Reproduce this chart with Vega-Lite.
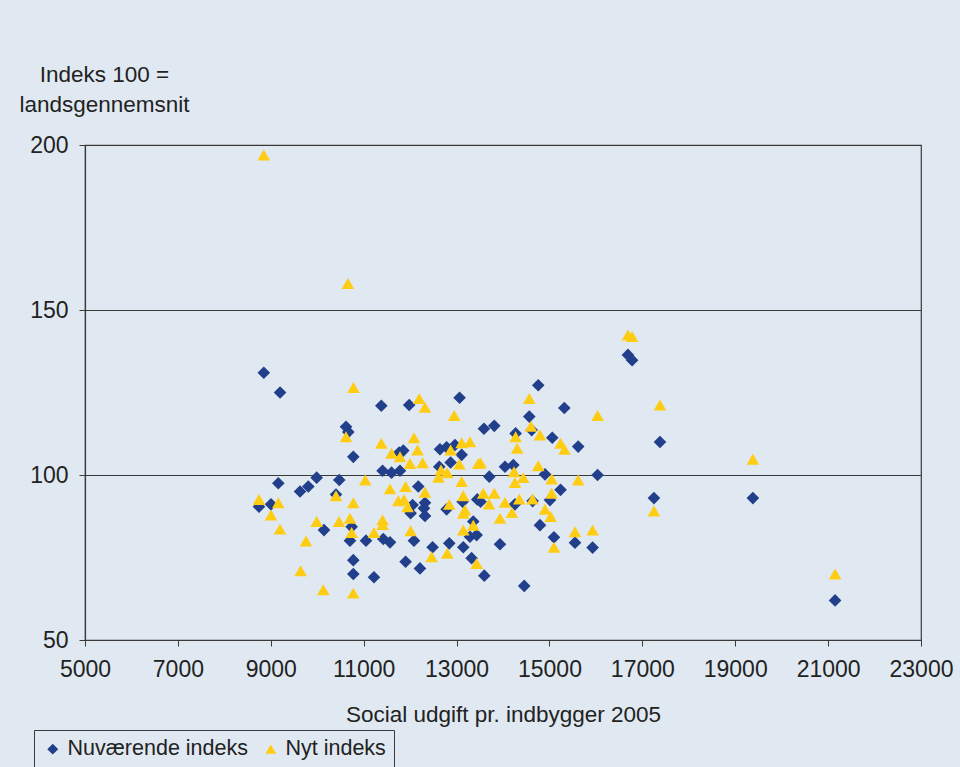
{
  "$schema": "https://vega.github.io/schema/vega-lite/v6.json",
  "autosize": {"type": "none"},
  "width": 836,
  "height": 495,
  "padding": {"left": 85, "top": 145, "right": 39, "bottom": 127},
  "background": "#e0e9f1",
  "config": {
    "font": "Liberation Sans",
    "view": {"stroke": "#3a3a3a", "strokeWidth": 1.2, "fill": "#e0e9f1"}
  },
  "data": {
    "values": [
      {"udgift": 8850, "indeks": 131, "serie": "Nuværende indeks"},
      {"udgift": 9200, "indeks": 125, "serie": "Nuværende indeks"},
      {"udgift": 16690, "indeks": 136.4, "serie": "Nuværende indeks"},
      {"udgift": 16780, "indeks": 134.8, "serie": "Nuværende indeks"},
      {"udgift": 17380, "indeks": 110, "serie": "Nuværende indeks"},
      {"udgift": 19380, "indeks": 93, "serie": "Nuværende indeks"},
      {"udgift": 21150, "indeks": 62, "serie": "Nuværende indeks"},
      {"udgift": 17250, "indeks": 93, "serie": "Nuværende indeks"},
      {"udgift": 11380, "indeks": 121, "serie": "Nuværende indeks"},
      {"udgift": 11980, "indeks": 121.2, "serie": "Nuværende indeks"},
      {"udgift": 13065, "indeks": 123.4, "serie": "Nuværende indeks"},
      {"udgift": 10620, "indeks": 114.6, "serie": "Nuværende indeks"},
      {"udgift": 10670, "indeks": 113, "serie": "Nuværende indeks"},
      {"udgift": 10777, "indeks": 105.5, "serie": "Nuværende indeks"},
      {"udgift": 12643, "indeks": 107.8, "serie": "Nuværende indeks"},
      {"udgift": 12786, "indeks": 108.4, "serie": "Nuværende indeks"},
      {"udgift": 12966, "indeks": 109.1, "serie": "Nuværende indeks"},
      {"udgift": 13110, "indeks": 106.1, "serie": "Nuværende indeks"},
      {"udgift": 12872, "indeks": 103.8, "serie": "Nuværende indeks"},
      {"udgift": 11853, "indeks": 107.4, "serie": "Nuværende indeks"},
      {"udgift": 11765, "indeks": 106.8, "serie": "Nuværende indeks"},
      {"udgift": 11407, "indeks": 101.3, "serie": "Nuværende indeks"},
      {"udgift": 11600, "indeks": 100.7, "serie": "Nuværende indeks"},
      {"udgift": 11782, "indeks": 101.3, "serie": "Nuværende indeks"},
      {"udgift": 12628, "indeks": 102.5, "serie": "Nuværende indeks"},
      {"udgift": 13590, "indeks": 114, "serie": "Nuværende indeks"},
      {"udgift": 9162, "indeks": 97.5, "serie": "Nuværende indeks"},
      {"udgift": 9630, "indeks": 95, "serie": "Nuværende indeks"},
      {"udgift": 9808, "indeks": 96.5, "serie": "Nuværende indeks"},
      {"udgift": 9988, "indeks": 99.2, "serie": "Nuværende indeks"},
      {"udgift": 10475, "indeks": 98.5, "serie": "Nuværende indeks"},
      {"udgift": 8746, "indeks": 90.4, "serie": "Nuværende indeks"},
      {"udgift": 9005, "indeks": 91.1, "serie": "Nuværende indeks"},
      {"udgift": 10777, "indeks": 74.2, "serie": "Nuværende indeks"},
      {"udgift": 10777, "indeks": 70, "serie": "Nuværende indeks"},
      {"udgift": 11222, "indeks": 69, "serie": "Nuværende indeks"},
      {"udgift": 10146, "indeks": 83.3, "serie": "Nuværende indeks"},
      {"udgift": 10404, "indeks": 94.1, "serie": "Nuværende indeks"},
      {"udgift": 10741, "indeks": 84.3, "serie": "Nuværende indeks"},
      {"udgift": 10705, "indeks": 80.1, "serie": "Nuværende indeks"},
      {"udgift": 11050, "indeks": 80.1, "serie": "Nuværende indeks"},
      {"udgift": 11422, "indeks": 80.6, "serie": "Nuværende indeks"},
      {"udgift": 11567, "indeks": 79.6, "serie": "Nuværende indeks"},
      {"udgift": 12176, "indeks": 96.5, "serie": "Nuværende indeks"},
      {"udgift": 12054, "indeks": 90.9, "serie": "Nuværende indeks"},
      {"udgift": 12320, "indeks": 91.6, "serie": "Nuværende indeks"},
      {"udgift": 12298, "indeks": 89.9, "serie": "Nuværende indeks"},
      {"udgift": 12011, "indeks": 88.4, "serie": "Nuværende indeks"},
      {"udgift": 12320, "indeks": 87.6, "serie": "Nuværende indeks"},
      {"udgift": 12083, "indeks": 80.1, "serie": "Nuværende indeks"},
      {"udgift": 12484, "indeks": 78.1, "serie": "Nuværende indeks"},
      {"udgift": 12843, "indeks": 79.3, "serie": "Nuværende indeks"},
      {"udgift": 13145, "indeks": 78.1, "serie": "Nuværende indeks"},
      {"udgift": 13324, "indeks": 74.8, "serie": "Nuværende indeks"},
      {"udgift": 11903, "indeks": 73.7, "serie": "Nuværende indeks"},
      {"udgift": 12212, "indeks": 71.7, "serie": "Nuværende indeks"},
      {"udgift": 12786, "indeks": 89.6, "serie": "Nuværende indeks"},
      {"udgift": 13130, "indeks": 91.9, "serie": "Nuværende indeks"},
      {"udgift": 13289, "indeks": 81.3, "serie": "Nuværende indeks"},
      {"udgift": 13432, "indeks": 81.8, "serie": "Nuværende indeks"},
      {"udgift": 13446, "indeks": 92.6, "serie": "Nuværende indeks"},
      {"udgift": 13360, "indeks": 85.9, "serie": "Nuværende indeks"},
      {"udgift": 14759, "indeks": 127.2, "serie": "Nuværende indeks"},
      {"udgift": 15320, "indeks": 120.3, "serie": "Nuværende indeks"},
      {"udgift": 13812, "indeks": 114.9, "serie": "Nuværende indeks"},
      {"udgift": 14566, "indeks": 117.7, "serie": "Nuværende indeks"},
      {"udgift": 14617, "indeks": 113.6, "serie": "Nuværende indeks"},
      {"udgift": 14272, "indeks": 112.6, "serie": "Nuværende indeks"},
      {"udgift": 15061, "indeks": 111.3, "serie": "Nuværende indeks"},
      {"udgift": 15619, "indeks": 108.6, "serie": "Nuværende indeks"},
      {"udgift": 14043, "indeks": 102.5, "serie": "Nuværende indeks"},
      {"udgift": 14222, "indeks": 103, "serie": "Nuværende indeks"},
      {"udgift": 14904, "indeks": 100.2, "serie": "Nuværende indeks"},
      {"udgift": 13705, "indeks": 99.5, "serie": "Nuværende indeks"},
      {"udgift": 16036, "indeks": 100, "serie": "Nuværende indeks"},
      {"udgift": 15239, "indeks": 95.5, "serie": "Nuværende indeks"},
      {"udgift": 15011, "indeks": 92.4, "serie": "Nuværende indeks"},
      {"udgift": 13517, "indeks": 91.9, "serie": "Nuværende indeks"},
      {"udgift": 14258, "indeks": 91.1, "serie": "Nuværende indeks"},
      {"udgift": 14637, "indeks": 92.1, "serie": "Nuværende indeks"},
      {"udgift": 14796, "indeks": 84.8, "serie": "Nuværende indeks"},
      {"udgift": 13935, "indeks": 79, "serie": "Nuværende indeks"},
      {"udgift": 15097, "indeks": 81.1, "serie": "Nuværende indeks"},
      {"udgift": 15550, "indeks": 79.5, "serie": "Nuværende indeks"},
      {"udgift": 15929, "indeks": 78, "serie": "Nuværende indeks"},
      {"udgift": 13597, "indeks": 69.5, "serie": "Nuværende indeks"},
      {"udgift": 14457, "indeks": 66.4, "serie": "Nuværende indeks"},
      {"udgift": 8850, "indeks": 197, "serie": "Nyt indeks"},
      {"udgift": 10660, "indeks": 158, "serie": "Nyt indeks"},
      {"udgift": 16690, "indeks": 142.4, "serie": "Nyt indeks"},
      {"udgift": 16780, "indeks": 142, "serie": "Nyt indeks"},
      {"udgift": 17380, "indeks": 121.2, "serie": "Nyt indeks"},
      {"udgift": 19380, "indeks": 104.8, "serie": "Nyt indeks"},
      {"udgift": 21150, "indeks": 70, "serie": "Nyt indeks"},
      {"udgift": 17250, "indeks": 89.1, "serie": "Nyt indeks"},
      {"udgift": 10780, "indeks": 126.5, "serie": "Nyt indeks"},
      {"udgift": 12197, "indeks": 123.2, "serie": "Nyt indeks"},
      {"udgift": 12320, "indeks": 120.5, "serie": "Nyt indeks"},
      {"udgift": 12950, "indeks": 118, "serie": "Nyt indeks"},
      {"udgift": 10620, "indeks": 111.6, "serie": "Nyt indeks"},
      {"udgift": 11380, "indeks": 109.6, "serie": "Nyt indeks"},
      {"udgift": 12083, "indeks": 111.3, "serie": "Nyt indeks"},
      {"udgift": 12872, "indeks": 107.6, "serie": "Nyt indeks"},
      {"udgift": 13110, "indeks": 109.8, "serie": "Nyt indeks"},
      {"udgift": 13289, "indeks": 110.1, "serie": "Nyt indeks"},
      {"udgift": 13059, "indeks": 103.3, "serie": "Nyt indeks"},
      {"udgift": 12160, "indeks": 107.6, "serie": "Nyt indeks"},
      {"udgift": 11782, "indeks": 105.5, "serie": "Nyt indeks"},
      {"udgift": 11600, "indeks": 106.6, "serie": "Nyt indeks"},
      {"udgift": 11997, "indeks": 103.5, "serie": "Nyt indeks"},
      {"udgift": 12269, "indeks": 103.7, "serie": "Nyt indeks"},
      {"udgift": 12665, "indeks": 101.5, "serie": "Nyt indeks"},
      {"udgift": 12800, "indeks": 100.7, "serie": "Nyt indeks"},
      {"udgift": 12610, "indeks": 99.3, "serie": "Nyt indeks"},
      {"udgift": 13467, "indeks": 103.5, "serie": "Nyt indeks"},
      {"udgift": 11035, "indeks": 98.5, "serie": "Nyt indeks"},
      {"udgift": 8746, "indeks": 92.6, "serie": "Nyt indeks"},
      {"udgift": 9162, "indeks": 91.6, "serie": "Nyt indeks"},
      {"udgift": 9005, "indeks": 87.9, "serie": "Nyt indeks"},
      {"udgift": 9198, "indeks": 83.6, "serie": "Nyt indeks"},
      {"udgift": 9758, "indeks": 80, "serie": "Nyt indeks"},
      {"udgift": 9642, "indeks": 71, "serie": "Nyt indeks"},
      {"udgift": 10131, "indeks": 65.2, "serie": "Nyt indeks"},
      {"udgift": 10777, "indeks": 64.2, "serie": "Nyt indeks"},
      {"udgift": 9988, "indeks": 85.9, "serie": "Nyt indeks"},
      {"udgift": 10469, "indeks": 85.9, "serie": "Nyt indeks"},
      {"udgift": 10404, "indeks": 93.7, "serie": "Nyt indeks"},
      {"udgift": 10777, "indeks": 91.6, "serie": "Nyt indeks"},
      {"udgift": 10705, "indeks": 86.9, "serie": "Nyt indeks"},
      {"udgift": 10741, "indeks": 82.6, "serie": "Nyt indeks"},
      {"udgift": 11222, "indeks": 82.6, "serie": "Nyt indeks"},
      {"udgift": 11407, "indeks": 86.4, "serie": "Nyt indeks"},
      {"udgift": 11407, "indeks": 85, "serie": "Nyt indeks"},
      {"udgift": 11567, "indeks": 95.8, "serie": "Nyt indeks"},
      {"udgift": 11903, "indeks": 96.5, "serie": "Nyt indeks"},
      {"udgift": 12320, "indeks": 94.8, "serie": "Nyt indeks"},
      {"udgift": 11746, "indeks": 92.2, "serie": "Nyt indeks"},
      {"udgift": 11868, "indeks": 92.6, "serie": "Nyt indeks"},
      {"udgift": 11946, "indeks": 90.4, "serie": "Nyt indeks"},
      {"udgift": 12011, "indeks": 83.1, "serie": "Nyt indeks"},
      {"udgift": 12463, "indeks": 75.2, "serie": "Nyt indeks"},
      {"udgift": 12800, "indeks": 76.3, "serie": "Nyt indeks"},
      {"udgift": 12843, "indeks": 91.1, "serie": "Nyt indeks"},
      {"udgift": 13145, "indeks": 93.7, "serie": "Nyt indeks"},
      {"udgift": 13110, "indeks": 98, "serie": "Nyt indeks"},
      {"udgift": 13145, "indeks": 88.4, "serie": "Nyt indeks"},
      {"udgift": 13180, "indeks": 89.4, "serie": "Nyt indeks"},
      {"udgift": 13145, "indeks": 83.3, "serie": "Nyt indeks"},
      {"udgift": 13360, "indeks": 84.8, "serie": "Nyt indeks"},
      {"udgift": 13432, "indeks": 73.2, "serie": "Nyt indeks"},
      {"udgift": 14566, "indeks": 123.2, "serie": "Nyt indeks"},
      {"udgift": 16036, "indeks": 118, "serie": "Nyt indeks"},
      {"udgift": 14603, "indeks": 114.8, "serie": "Nyt indeks"},
      {"udgift": 14272, "indeks": 111.6, "serie": "Nyt indeks"},
      {"udgift": 14796, "indeks": 112.1, "serie": "Nyt indeks"},
      {"udgift": 14306, "indeks": 108.1, "serie": "Nyt indeks"},
      {"udgift": 15239, "indeks": 109.6, "serie": "Nyt indeks"},
      {"udgift": 15325, "indeks": 107.8, "serie": "Nyt indeks"},
      {"udgift": 13517, "indeks": 103.7, "serie": "Nyt indeks"},
      {"udgift": 14237, "indeks": 101, "serie": "Nyt indeks"},
      {"udgift": 14759, "indeks": 102.8, "serie": "Nyt indeks"},
      {"udgift": 14436, "indeks": 99.2, "serie": "Nyt indeks"},
      {"udgift": 15047, "indeks": 98.8, "serie": "Nyt indeks"},
      {"udgift": 15619, "indeks": 98.5, "serie": "Nyt indeks"},
      {"udgift": 14258, "indeks": 97.7, "serie": "Nyt indeks"},
      {"udgift": 15047, "indeks": 94.5, "serie": "Nyt indeks"},
      {"udgift": 13575, "indeks": 94.5, "serie": "Nyt indeks"},
      {"udgift": 13812, "indeks": 94.5, "serie": "Nyt indeks"},
      {"udgift": 13698, "indeks": 91.2, "serie": "Nyt indeks"},
      {"udgift": 14043, "indeks": 91.7, "serie": "Nyt indeks"},
      {"udgift": 14350, "indeks": 92.7, "serie": "Nyt indeks"},
      {"udgift": 14637, "indeks": 92.7, "serie": "Nyt indeks"},
      {"udgift": 13935, "indeks": 86.9, "serie": "Nyt indeks"},
      {"udgift": 14193, "indeks": 88.6, "serie": "Nyt indeks"},
      {"udgift": 14904, "indeks": 89.6, "serie": "Nyt indeks"},
      {"udgift": 15025, "indeks": 87.4, "serie": "Nyt indeks"},
      {"udgift": 15097, "indeks": 78.1, "serie": "Nyt indeks"},
      {"udgift": 15550, "indeks": 82.8, "serie": "Nyt indeks"},
      {"udgift": 15929, "indeks": 83.3, "serie": "Nyt indeks"}
    ]
  },
  "mark": {"type": "point", "filled": true, "opacity": 1, "size": 160, "strokeWidth": 0},
  "encoding": {
    "x": {
      "field": "udgift",
      "type": "quantitative",
      "scale": {"domain": [5000, 23000], "nice": false, "zero": false},
      "axis": {
        "values": [5000, 7000, 9000, 11000, 13000, 15000, 17000, 19000, 21000, 23000],
        "format": "d",
        "grid": false,
        "domainColor": "#3a3a3a",
        "domainWidth": 1.2,
        "tickColor": "#3a3a3a",
        "tickSize": 6,
        "labelFontSize": 23,
        "labelColor": "#222222",
        "labelPadding": 12,
        "labelFlush": false,
        "title": "Social udgift pr. indbygger 2005",
        "titleFontSize": 22.5,
        "titleFontWeight": "normal",
        "titleColor": "#222222",
        "titleBaseline": "alphabetic",
        "titleY": 81
      }
    },
    "y": {
      "field": "indeks",
      "type": "quantitative",
      "scale": {"domain": [50, 200], "nice": false, "zero": false},
      "axis": {
        "values": [50, 100, 150, 200],
        "grid": true,
        "gridColor": "#3a3a3a",
        "gridWidth": 1.2,
        "domainColor": "#3a3a3a",
        "domainWidth": 1.2,
        "tickColor": "#3a3a3a",
        "tickSize": 6,
        "labelFontSize": 23,
        "labelColor": "#222222",
        "labelPadding": 11,
        "labelFlush": false,
        "title": ["Indeks 100 =", "landsgennemsnit"],
        "titleFontSize": 22.5,
        "titleFontWeight": "normal",
        "titleColor": "#222222",
        "titleAngle": 0,
        "titleAlign": "center",
        "titleBaseline": "alphabetic",
        "titleLineHeight": 30,
        "titleX": 19,
        "titleY": -64
      }
    },
    "color": {
      "field": "serie",
      "type": "nominal",
      "scale": {"domain": ["Nuværende indeks", "Nyt indeks"], "range": ["#213f8b", "#ffcc14"]},
      "legend": {
        "title": null,
        "orient": "none",
        "direction": "horizontal",
        "legendX": -51,
        "legendY": 585,
        "fillColor": "#e0e9f1",
        "strokeColor": "#3a3a3a",
        "padding": 8,
        "labelFontSize": 21.5,
        "labelLimit": 0,
        "labelColor": "#222222",
        "symbolSize": 120,
        "symbolStrokeWidth": 0,
        "labelOffset": 4,
        "columnPadding": 12
      }
    },
    "shape": {
      "field": "serie",
      "type": "nominal",
      "scale": {"domain": ["Nuværende indeks", "Nyt indeks"], "range": ["diamond", "triangle-up"]}
    }
  }
}
